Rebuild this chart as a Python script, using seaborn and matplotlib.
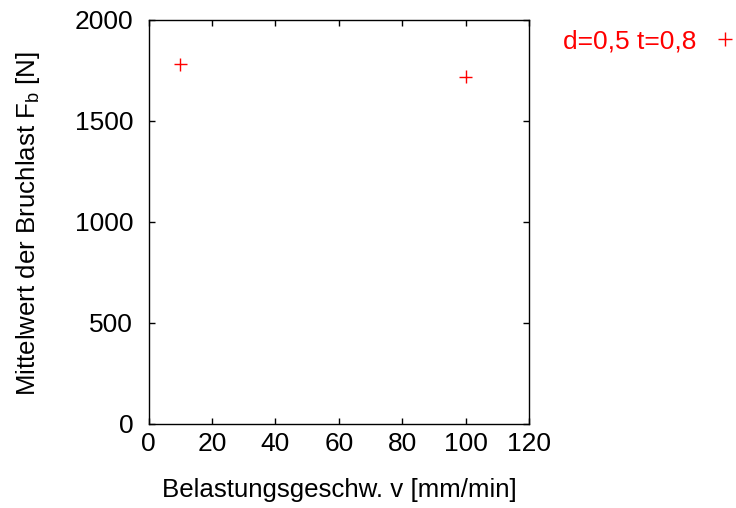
import matplotlib
matplotlib.use("Agg")
import matplotlib.pyplot as plt
import seaborn as sns
import pandas as pd

# Loading speed [mm/min] and mean fracture load [N]
speed = [10, 100]
mean_load = [1778, 1717]
series_label = "d=0,5 t=0,8"

sns.set_style("ticks")
plt.rcParams["font.family"] = ["Liberation Sans", "DejaVu Sans"]
plt.rcParams["text.color"] = "black"
plt.rcParams["axes.labelcolor"] = "black"

FS = 19

df = pd.DataFrame({"v": speed, "Fb": mean_load, "serie": series_label})

fig = plt.figure(figsize=(7.36, 5.08), dpi=100)
ax = fig.add_axes([0.2018, 0.1654, 0.5170, 0.7962])

sns.scatterplot(data=df, x="v", y="Fb", hue="serie", palette=["#ff0000"],
                marker="+", s=90, linewidth=1.0, ax=ax)

ax.set_xlim(0, 120)
ax.set_ylim(0, 2000)
ax.set_xticks(range(0, 121, 20))
ax.set_yticks(range(0, 2001, 500))
ax.tick_params(direction="in", length=4.5, width=1, top=True, right=True,
               labelsize=FS, colors="black")
ax.tick_params(axis="x", pad=6)
ax.tick_params(axis="y", pad=11)
for sp in ax.spines.values():
    sp.set_visible(True)
    sp.set_linewidth(1)
    sp.set_color("black")

ax.set_xlabel("Belastungsgeschw. v [mm/min]", fontsize=18.6, color="black")
ax.set_ylabel(r"Mittelwert der Bruchlast F$_\mathregular{b}$ [N]",
              fontsize=18.6, color="black")
ax.xaxis.set_label_coords(339 / 736, (508 - 490) / 508, transform=fig.transFigure)
ax.yaxis.set_label_coords(28 / 736, (508 - 224) / 508, transform=fig.transFigure)
ax.xaxis.label.set_va("center")
ax.yaxis.label.set_va("center")

leg = ax.legend(loc="center right", bbox_to_anchor=(1.003, 1 - 41 / 508),
                bbox_transform=fig.transFigure, frameon=False,
                markerfirst=False, labelcolor="#ff0000", fontsize=FS,
                handlelength=1.0, handletextpad=0.6, borderpad=0,
                borderaxespad=0)

fig.savefig("out.png", dpi=100)
